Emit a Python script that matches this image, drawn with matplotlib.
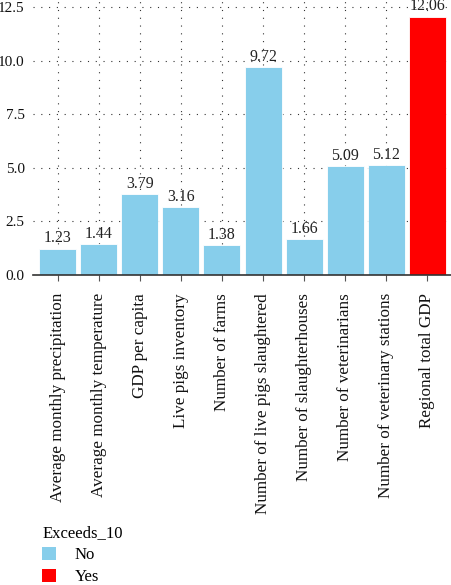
import matplotlib
matplotlib.use('Agg')
import matplotlib.pyplot as plt
from matplotlib.patches import Patch

plt.rcParams['font.family'] = ['Liberation Serif', 'DejaVu Serif']

categories = ['Average monthly precipitation', 'Average monthly temperature',
              'GDP per capita', 'Live pigs inventory', 'Number of farms',
              'Number of live pigs slaughtered', 'Number of slaughterhouses',
              'Number of veterinarians', 'Number of veterinary stations',
              'Regional total GDP']
values = [1.23, 1.44, 3.79, 3.16, 1.38, 9.72, 1.66, 5.09, 5.12, 12.06]
exceeds = ['No', 'No', 'No', 'No', 'No', 'No', 'No', 'No', 'No', 'Yes']
palette = {'No': '#87CEEB', 'Yes': '#FF0000'}

fig = plt.figure(figsize=(4.52, 5.85), dpi=100)
ax = fig.add_axes([0.073, 0.530, 0.927, 0.470])

x = range(len(categories))
colors = [palette[e] for e in exceeds]
bars = ax.bar(x, values, width=0.9, color=colors, edgecolor='white', linewidth=0.6, zorder=2)
for xi, v in zip(x, values):
    ax.text(xi, v + 0.1, f'{v:.2f}', ha='center', va='bottom', fontsize=11.5, color='#222222')

ax.set_xlim(-0.6, 9.6)
ax.set_ylim(0, 12.83)
ax.set_yticks([0, 2.5, 5, 7.5, 10, 12.5])
ax.set_yticklabels(['0.0', '2.5', '5.0', '7.5', '10.0', '12.5'], fontsize=11)
ax.set_xticks(list(x))
ax.set_xticklabels(categories, rotation=90, fontsize=12.3)

ax.grid(True, color='#333333', linestyle=(0, (1, 6)), linewidth=0.8, zorder=0)
ax.set_axisbelow(True)
for s in ['top', 'right', 'left']:
    ax.spines[s].set_visible(False)
ax.spines['bottom'].set_color('#333333')
ax.spines['bottom'].set_linewidth(1.2)
ax.tick_params(axis='y', length=0, pad=6, colors='#111111')
ax.tick_params(axis='x', length=4, color='#555555', pad=9, colors='#111111')

handles = [Patch(facecolor=palette[k], edgecolor='none') for k in ['No', 'Yes']]
leg = fig.legend(handles, ['No', 'Yes'], title='Exceeds_10', loc='lower left',
                 bbox_to_anchor=(0.06, -0.026), frameon=False, fontsize=12,
                 title_fontsize=12, handlelength=0.85, handleheight=0.85,
                 handletextpad=1.1, labelspacing=0.35)
leg._legend_box.align = 'left'

fig.savefig('out.png', dpi=100)
